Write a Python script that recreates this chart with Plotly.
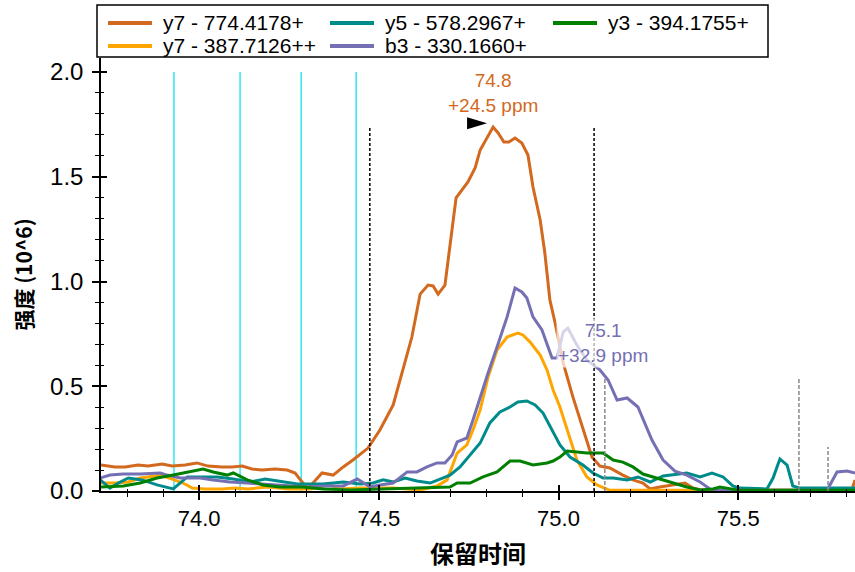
import plotly.graph_objects as go

# ---------------- data ----------------
series_names = ["y7 - 774.4178+", "y7 - 387.7126++", "y5 - 578.2967+", "b3 - 330.1660+", "y3 - 394.1755+"]
series_colors = ["#D2691E", "#FFA500", "#008B8B", "#7570B3", "#008000"]
legend_order = [0, 2, 4, 1, 3]   # row-major, 3 columns

y7a_t = [73.727, 73.766, 73.794, 73.830, 73.858, 73.897, 73.925, 73.961, 73.994, 74.025, 74.064, 74.092,
         74.120, 74.147, 74.175, 74.211, 74.245, 74.267, 74.300, 74.317, 74.342, 74.373, 74.401, 74.428,
         74.470, 74.503, 74.540, 74.567, 74.592, 74.615, 74.637, 74.651, 74.665, 74.684, 74.698, 74.715,
         74.748, 74.768, 74.782, 74.801, 74.818, 74.832, 74.848, 74.862, 74.879, 74.898, 74.915, 74.929,
         74.949, 74.962, 74.976, 74.990, 75.013, 75.040, 75.068, 75.093, 75.115, 75.143, 75.179, 75.207,
         75.235, 75.255, 75.282, 75.318, 75.352, 75.374, 75.402, 75.497, 75.816, 75.825]
y7a_i = [0.124, 0.115, 0.115, 0.124, 0.119, 0.129, 0.119, 0.124, 0.134, 0.119, 0.115, 0.115,
         0.119, 0.105, 0.100, 0.105, 0.100, 0.086, 0.014, 0.038, 0.086, 0.076, 0.115, 0.148,
         0.205, 0.291, 0.411, 0.578, 0.735, 0.940, 0.983, 0.979, 0.940, 0.983, 1.184, 1.399,
         1.475, 1.542, 1.628, 1.685, 1.737, 1.709, 1.666, 1.666, 1.685, 1.661, 1.604, 1.451,
         1.294, 1.136, 0.912, 0.807, 0.611, 0.449, 0.291, 0.162, 0.119, 0.110, 0.076, 0.053,
         0.038, 0.010, 0.019, 0.029, 0.038, 0.014, 0.003, 0.003, 0.003, 0.053]

y7b_t = [73.725, 73.766, 73.803, 73.836, 73.858, 73.892, 73.925, 73.955, 73.981, 74.017, 74.064, 74.100,
         74.136, 74.192, 74.248, 74.309, 74.364, 74.392, 74.448, 74.540, 74.615, 74.662, 74.690, 74.704,
         74.718, 74.745, 74.762, 74.782, 74.804, 74.829, 74.857, 74.887, 74.901, 74.921, 74.949, 74.968,
         74.985, 75.004, 75.026, 75.051, 75.079, 75.107, 75.143, 75.825]
y7b_i = [0.038, 0.038, 0.043, 0.062, 0.067, 0.076, 0.057, 0.038, 0.014, 0.010, 0.010, 0.014,
         0.010, 0.019, 0.010, 0.010, 0.029, 0.010, 0.014, 0.014, 0.005, 0.024, 0.053, 0.115,
         0.181, 0.220, 0.291, 0.387, 0.544, 0.673, 0.735, 0.754, 0.745, 0.711, 0.649, 0.578,
         0.482, 0.401, 0.277, 0.148, 0.067, 0.029, 0.003, 0.003]

y5_t = [73.725, 73.752, 73.775, 73.803, 73.841, 73.883, 73.928, 73.967, 74.003, 74.050, 74.095, 74.142,
        74.184, 74.231, 74.273, 74.345, 74.401, 74.448, 74.484, 74.512, 74.540, 74.573, 74.606, 74.643,
        74.670, 74.698, 74.726, 74.754, 74.782, 74.809, 74.837, 74.865, 74.887, 74.912, 74.935, 74.957,
        74.982, 75.004, 75.032, 75.068, 75.096, 75.124, 75.152, 75.191, 75.221, 75.255, 75.291, 75.330,
        75.357, 75.394, 75.427, 75.458, 75.485, 75.505, 75.580, 75.597, 75.616, 75.636, 75.652, 75.672,
        75.825]
y5_i = [0.053, 0.014, 0.038, 0.062, 0.053, 0.029, 0.010, 0.067, 0.067, 0.067, 0.057, 0.043,
        0.057, 0.043, 0.033, 0.033, 0.043, 0.033, 0.038, 0.053, 0.043, 0.062, 0.048, 0.038,
        0.057, 0.076, 0.115, 0.172, 0.229, 0.325, 0.377, 0.401, 0.425, 0.430, 0.411, 0.372,
        0.291, 0.220, 0.162, 0.124, 0.086, 0.062, 0.062, 0.053, 0.067, 0.043, 0.072, 0.081,
        0.086, 0.067, 0.086, 0.067, 0.024, 0.014, 0.010, 0.062, 0.153, 0.124, 0.024, 0.014,
        0.014]

b3_t = [73.725, 73.752, 73.789, 73.836, 73.892, 73.911, 73.947, 74.003, 74.039, 74.086, 74.134, 74.178,
        74.253, 74.300, 74.345, 74.401, 74.440, 74.476, 74.503, 74.540, 74.579, 74.606, 74.634, 74.662,
        74.684, 74.704, 74.718, 74.745, 74.762, 74.782, 74.804, 74.829, 74.857, 74.879, 74.898, 74.912,
        74.929, 74.954, 74.968, 74.982, 74.996, 75.013, 75.026, 75.051, 75.079, 75.115, 75.138, 75.163,
        75.191, 75.221, 75.260, 75.291, 75.324, 75.357, 75.394, 75.421, 75.449, 75.747, 75.775, 75.803,
        75.825]
b3_i = [0.062, 0.076, 0.081, 0.081, 0.086, 0.076, 0.062, 0.062, 0.053, 0.043, 0.038, 0.033,
        0.024, 0.019, 0.024, 0.024, 0.057, 0.019, 0.029, 0.038, 0.091, 0.091, 0.115, 0.134,
        0.134, 0.172, 0.234, 0.253, 0.339, 0.449, 0.563, 0.687, 0.831, 0.969, 0.950, 0.921,
        0.831, 0.769, 0.706, 0.635, 0.635, 0.759, 0.778, 0.697, 0.625, 0.578, 0.530, 0.434,
        0.444, 0.401, 0.243, 0.148, 0.095, 0.076, 0.043, 0.010, 0.003, 0.003, 0.091, 0.095,
        0.086]

y3_t = [73.725, 73.789, 73.836, 73.883, 73.928, 73.975, 74.011, 74.039, 74.078, 74.095, 74.134, 74.178,
        74.225, 74.289, 74.345, 74.420, 74.595, 74.634, 74.698, 74.718, 74.754, 74.790, 74.829, 74.865,
        74.893, 74.929, 74.968, 74.985, 75.004, 75.024, 75.051, 75.079, 75.124, 75.152, 75.179, 75.207,
        75.235, 75.274, 75.310, 75.357, 75.394, 75.430, 75.449, 75.477, 75.505, 75.825]
y3_i = [0.019, 0.024, 0.038, 0.062, 0.076, 0.091, 0.105, 0.091, 0.076, 0.086, 0.053, 0.029,
        0.019, 0.019, 0.010, 0.005, 0.014, 0.019, 0.019, 0.038, 0.038, 0.067, 0.091, 0.143,
        0.143, 0.124, 0.134, 0.143, 0.162, 0.191, 0.186, 0.181, 0.181, 0.148, 0.138, 0.115,
        0.081, 0.062, 0.043, 0.019, 0.005, 0.010, 0.019, 0.010, 0.003, 0.003]

series_t = [y7a_t, y7b_t, y5_t, b3_t, y3_t]
series_i = [y7a_i, y7b_i, y5_i, b3_i, y3_i]

id_times = [73.930, 74.114, 74.284, 74.437]          # cyan ID lines
boundary_times = [74.475, 75.099]                   # integration boundaries
boundary_height = 1.742
other_peak_times = [75.129, 75.669, 75.750]         # grey dashed markers
other_peak_heights = [0.544, 0.544, 0.210]

apex_time, apex_height, apex_label = 74.818, 1.737, "74.8<br>+24.5 ppm"
sec_time, sec_height, sec_label = 75.129, 0.544, "75.1<br>+32.9 ppm"

x_range = [73.727, 75.825]
y_range = [0, 2.067]
x_ticks = [74.0, 74.5, 75.0, 75.5]
y_ticks = [0.0, 0.5, 1.0, 1.5, 2.0]

# ---------------- layout geometry (pixels) ----------------
W, H = 855, 572
ML, MR, MT, MB = 101, 0, 58, 81
PW, PH = W - ML - MR, H - MT - MB


def px_x(p):
    return (p - ML) / PW


def px_y(p):
    return (H - MB - p) / PH


# ---------------- figure ----------------
fig = go.Figure()
for name, col, t, v in zip(series_names, series_colors, series_t, series_i):
    fig.add_trace(go.Scatter(x=t, y=v, mode="lines", name=name,
                             line=dict(color=col, width=3), hoverinfo="skip"))

# helper trace for the inner half of the crossing ticks
fig.add_trace(go.Scatter(x=[], y=[], xaxis="x2", yaxis="y2", showlegend=False, hoverinfo="skip"))

shapes = []
for t in id_times:
    shapes.append(dict(type="line", xref="x", yref="y", x0=t, x1=t, y0=0, y1=2.0,
                       line=dict(color="#2EE8F0", width=1.5), layer="below"))
for t in boundary_times:
    shapes.append(dict(type="line", xref="x", yref="y", x0=t, x1=t, y0=0, y1=boundary_height,
                       line=dict(color="black", width=1.5, dash="3px,2px")))
for t, h in zip(other_peak_times, other_peak_heights):
    shapes.append(dict(type="line", xref="x", yref="y", x0=t, x1=t, y0=0, y1=h,
                       line=dict(color="#888888", width=1.5, dash="4px,2px")))
# apex marker triangle
shapes.append(dict(type="path", xref="x", yref="y", xsizemode="pixel", ysizemode="pixel",
                   xanchor=apex_time, yanchor=apex_height,
                   path="M-26,10 L-6,4 L-26,-2 Z", fillcolor="black", line=dict(width=0)))

annotations = [
    dict(x=apex_time, y=apex_height, xref="x", yref="y", text=apex_label, showarrow=False,
         yanchor="bottom", yshift=9, font=dict(family="Liberation Sans, Arial", size=19, color="#D2691E")),
    dict(x=sec_time, y=sec_height, xref="x", yref="y", text=sec_label, showarrow=False,
         yanchor="bottom", yshift=9, xshift=-2, bgcolor="rgba(255,255,255,0.7)",
         font=dict(family="Liberation Sans, Arial", size=19, color="#7570B3")),
]

# legend drawn as a framed 3-column key
shapes.append(dict(type="rect", xref="paper", yref="paper", x0=px_x(97), x1=px_x(768),
                   y0=px_y(57), y1=px_y(5), line=dict(color="black", width=1.5),
                   fillcolor="white"))
col_left = [108, 330, 553]
row_mid = [23, 46]
for j, k in enumerate(legend_order):
    r, c = divmod(j, 3)
    x0 = col_left[c]
    yy = px_y(row_mid[r])
    shapes.append(dict(type="line", xref="paper", yref="paper", x0=px_x(x0), x1=px_x(x0 + 44),
                       y0=yy, y1=yy, line=dict(color=series_colors[k], width=4)))
    annotations.append(dict(x=px_x(x0 + 53), y=yy, xref="paper", yref="paper", text=series_names[k],
                            showarrow=False, xanchor="left", yanchor="middle",
                            font=dict(family="Liberation Sans, Arial", size=21, color="black")))

axis_common = dict(showgrid=False, zeroline=False, showline=True, linecolor="black", linewidth=1.5,
                   ticks="outside", tickcolor="black", tickwidth=1.5, ticklen=7)

fig.update_layout(
    width=W, height=H,
    margin=dict(l=ML, r=MR, t=MT, b=MB),
    paper_bgcolor="white", plot_bgcolor="white",
    showlegend=False,
    xaxis=dict(range=x_range, tickvals=x_ticks, tickformat=".1f",
               tickfont=dict(family="Liberation Sans, Arial", size=22, color="black"),
               minor=dict(dtick=0.1, tick0=74.0, ticks="outside", ticklen=4, tickcolor="black", tickwidth=1.2),
               title=dict(text="<b>保留时间</b>", font=dict(family="Noto Sans CJK SC", size=24, color="black"),
                          standoff=16),
               **axis_common),
    yaxis=dict(range=y_range, tickvals=y_ticks, tickformat=".1f", ticklabelstandoff=4,
               tickfont=dict(family="Liberation Sans, Arial", size=24, color="black"),
               minor=dict(dtick=0.1, tick0=0, ticks="outside", ticklen=4, tickcolor="black", tickwidth=1.2),
               title=dict(text="<b>强度 (10^6)</b>", font=dict(family="Noto Sans CJK SC", size=21, color="black"),
                          standoff=12),
               **axis_common),
    xaxis2=dict(overlaying="x", matches="x", anchor="y2", showgrid=False, zeroline=False, showline=False,
                showticklabels=False, tickvals=x_ticks, ticks="inside", ticklen=6, tickwidth=1.5,
                tickcolor="black",
                minor=dict(dtick=0.1, tick0=74.0, ticks="inside", ticklen=2, tickcolor="black", tickwidth=1.2)),
    yaxis2=dict(overlaying="y", matches="y", anchor="x2", side="left", showgrid=False, zeroline=False,
                showline=False, showticklabels=False, tickvals=y_ticks, ticks="inside", ticklen=6,
                tickwidth=1.5, tickcolor="black",
                minor=dict(dtick=0.1, tick0=0, ticks="inside", ticklen=3, tickcolor="black", tickwidth=1.2)),
    shapes=shapes,
    annotations=annotations,
)

fig.write_html("out.html")
